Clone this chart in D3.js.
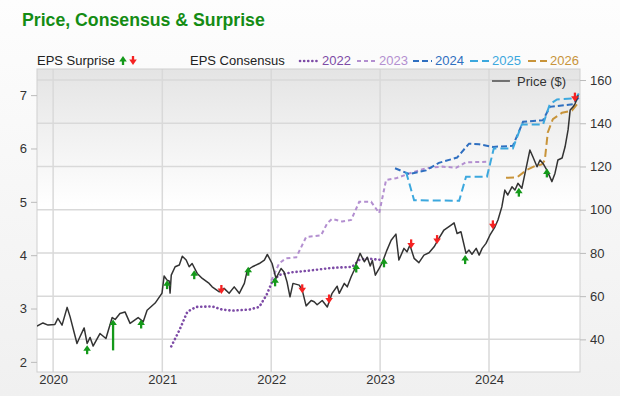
<!DOCTYPE html>
<html>
<head>
<meta charset="utf-8">
<script src="https://cdn.jsdelivr.net/npm/d3@7"></script>
<style>
  html, body { margin: 0; padding: 0; }
  body { width: 620px; height: 396px; overflow: hidden; font-family: "Liberation Sans", Arial, sans-serif; }
</style>
</head>
<body>
<div id="chart"></div>
<script>
// price ($), right axis
var priceSeries = [
  ["2019-11-08",46.1],["2019-11-28",47.6],["2019-12-15",46.6],["2020-01-07",46.9],["2020-01-17",49.7],
  ["2020-01-31",46.6],["2020-02-17",54.8],["2020-02-27",50.4],["2020-03-21",38.1],["2020-03-31",41.2],
  ["2020-04-14",45.3],["2020-04-24",38.1],["2020-05-04",40.9],["2020-05-14",36.9],["2020-06-06",42.7],
  ["2020-06-26",40.4],["2020-07-17",50.1],["2020-07-27",49.2],["2020-08-12",52],["2020-08-29",52.7],
  ["2020-09-15",47.4],["2020-10-12",50.1],["2020-10-29",48.1],["2020-11-11",53.5],["2020-12-08",56.8],
  ["2020-12-31",61.4],["2021-01-07",69.3],["2021-01-17",67.4],["2021-01-24",67],["2021-01-27",61.4],
  ["2021-01-31",69.7],["2021-02-13",73.6],["2021-02-27",74.4],["2021-03-09",78.5],["2021-03-22",76.7],
  ["2021-04-01",73.6],["2021-04-11",75.1],["2021-04-28",70.5],["2021-05-15",68.2],["2021-06-07",65.9],
  ["2021-06-17",64.3],["2021-07-11",62],["2021-07-27",63.6],["2021-08-13",61.3],["2021-08-30",64.3],
  ["2021-09-16",61.3],["2021-10-03",65.9],["2021-10-13",72],["2021-10-30",73.6],["2021-11-22",75.1],
  ["2021-12-09",76.7],["2021-12-19",79.3],["2022-01-04",75.1],["2022-01-17",68.2],["2022-02-03",72.8],
  ["2022-02-13",71.2],["2022-02-23",66.6],["2022-03-05",59.7],["2022-03-15",65.9],["2022-04-05",65.1],
  ["2022-04-15",62.8],["2022-04-28",55.5],["2022-05-15",58],["2022-05-25",57.4],["2022-06-04",56],
  ["2022-06-21",58],["2022-07-08",55],["2022-07-24",61.3],["2022-08-10",64.6],["2022-08-17",61.3],
  ["2022-09-03",65.9],["2022-09-13",64.3],["2022-09-26",69],["2022-10-06",72],["2022-10-13",75.1],
  ["2022-10-26",79.8],["2022-11-09",75.9],["2022-11-19",78],["2022-11-29",74],["2022-12-06",76.5],
  ["2022-12-16",69.7],["2022-12-29",72.8],["2023-01-07",75.1],["2023-01-24",81.3],["2023-02-07",85.9],
  ["2023-02-23",88.7],["2023-03-05",76.7],["2023-03-22",82.1],["2023-04-01",80.5],["2023-04-11",83.6],
  ["2023-04-25",77.5],["2023-05-11",75.5],["2023-05-28",79],["2023-06-14",80.1],["2023-07-01",82.8],
  ["2023-07-17",86.7],["2023-08-03",90.6],["2023-08-27",92.9],["2023-09-06",93.9],["2023-09-16",89],
  ["2023-09-29",89.8],["2023-10-16",79.8],["2023-10-26",81.3],["2023-11-05",79.4],["2023-11-19",82.1],
  ["2023-11-29",79],["2023-12-09",82.1],["2023-12-22",84.4],["2024-01-04",88.2],["2024-01-21",92.1],
  ["2024-01-31",95.2],["2024-02-13",101.3],["2024-02-23",109.1],["2024-03-04",106.8],["2024-03-18",110.6],
  ["2024-03-28",109.1],["2024-04-07",112.2],["2024-04-20",109.9],["2024-05-07",121],["2024-05-17",127.6],
  ["2024-05-27",124.5],["2024-06-10",119.9],["2024-06-20",123],["2024-06-30",121.4],["2024-07-13",118.3],
  ["2024-07-30",113],["2024-08-09",116.8],["2024-08-19",123],["2024-09-02",123.9],["2024-09-12",129.1],
  ["2024-09-22",136.9],["2024-09-29",146.1],["2024-10-09",147.6],["2024-10-16",149.2],["2024-10-26",153]
];

// EPS consensus by fiscal year, left axis
var eps2022 = [
  ["2021-01-31",2.29],["2021-02-27",2.59],["2021-03-26",2.94],["2021-04-25",3.03],["2021-06-17",3.04],
  ["2021-07-21",2.98],["2021-08-23",2.96],["2021-10-19",2.98],["2021-11-22",3.03],["2021-12-16",3.25],
  ["2022-01-04",3.5],["2022-01-28",3.63],["2022-03-12",3.68],["2022-05-08",3.71],["2022-07-21",3.76],
  ["2022-08-17",3.77],["2022-09-29",3.78],["2022-10-23",3.91],["2022-11-15",3.94],["2022-12-19",3.92],
  ["2023-01-07",3.91]
];
var eps2023 = [
  ["2022-01-01",3.52],["2022-01-28",3.85],["2022-02-20",3.94],["2022-03-26",3.96],["2022-04-28",4.34],
  ["2022-06-17",4.37],["2022-07-08",4.6],["2022-07-24",4.68],["2022-08-27",4.63],["2022-09-26",4.66],
  ["2022-10-23",5.0],["2022-12-02",5.0],["2022-12-29",4.79],["2023-01-21",5.41],["2023-02-23",5.44],
  ["2023-04-08",5.53],["2023-06-04",5.63],["2023-07-28",5.66],["2023-09-13",5.64],["2023-10-16",5.74],
  ["2023-12-25",5.75]
];
var eps2024 = [
  ["2023-02-20",5.63],["2023-04-08",5.52],["2023-06-04",5.59],["2023-07-17",5.73],["2023-09-16",5.83],
  ["2023-10-26",6.09],["2023-11-29",6.08],["2024-01-14",6.03],["2024-03-21",6.05],["2024-04-24",6.5],
  ["2024-06-30",6.53],["2024-07-23",6.78],["2024-10-08",6.83],["2024-10-28",6.96]
];
var eps2025 = [
  ["2023-03-29",5.56],["2023-04-25",5.03],["2023-09-23",5.02],["2023-10-16",5.47],["2023-12-25",5.47],
  ["2024-01-17",6.0],["2024-03-21",6.0],["2024-04-20",6.45],["2024-06-30",6.45],["2024-07-23",6.83],
  ["2024-08-16",6.92],["2024-10-18",6.94],["2024-10-28",7.03]
];
var eps2026 = [
  ["2024-02-27",5.45],["2024-04-04",5.46],["2024-05-07",5.6],["2024-06-03",5.67],["2024-06-26",5.7],
  ["2024-07-06",5.78],["2024-07-16",6.3],["2024-08-02",6.55],["2024-09-02",6.67],["2024-10-05",6.71],
  ["2024-10-25",6.85]
];

// EPS surprise arrows: date, price at arrow tip, direction (tail only for the long one)
var surprises = [
  ["2020-04-24",37.3,"up"],["2020-07-20",49.2,"up",34.9],["2020-10-22",49.2,"up"],["2021-01-17",67.4,"up"],
  ["2021-04-18",72,"up"],["2021-07-18",61,"down"],["2021-10-16",73.6,"up"],["2022-01-14",68.7,"up"],
  ["2022-04-15",61.3,"down"],["2022-07-14",56.6,"down"],["2022-10-13",75.1,"up"],["2023-01-14",77.5,"up"],
  ["2023-04-15",82.1,"down"],["2023-07-11",84.1,"down"],["2023-10-13",79,"up"],["2024-01-14",90.9,"down"],
  ["2024-04-10",110.2,"up"],["2024-07-13",119.1,"up"],["2024-10-15",150,"down"]
];

var consensusNames = ["2022","2023","2024","2025","2026"];
var consensusData = [eps2022, eps2023, eps2024, eps2025, eps2026];
var yearTicks = ["2020-01-01","2021-01-01","2022-01-01","2023-01-01","2024-01-01"];
var epsTicks = [2, 3, 4, 5, 6, 7];
var priceTicks = [40, 60, 80, 100, 120, 140, 160];

var colors = ["#7d4ba6", "#b38fd0", "#2f6fc0", "#3ca8de", "#c8943a"];
var dashes = ["0.1,4", "4,3", "6,3", "8,4", "8,4"];

var W = 620, H = 396;
var margin = {left: 37, right: 580, top: 69, bottom: 372};
var parse = d3.timeParse("%Y-%m-%d");

var svg = d3.select("#chart").append("svg")
    .attr("width", W).attr("height", H);

var defs = svg.append("defs");
var pg = defs.append("linearGradient").attr("id", "pagebg")
    .attr("x1", 0).attr("y1", 0).attr("x2", 0).attr("y2", 1);
pg.append("stop").attr("offset", "0%").attr("stop-color", "#fdfdfd");
pg.append("stop").attr("offset", "100%").attr("stop-color", "#f0f0f0");
var bg = defs.append("linearGradient").attr("id", "plotbg")
    .attr("x1", 0).attr("y1", 0).attr("x2", 0).attr("y2", 1);
bg.append("stop").attr("offset", "0%").attr("stop-color", "#e4e4e4");
bg.append("stop").attr("offset", "45%").attr("stop-color", "#ffffff");
bg.append("stop").attr("offset", "100%").attr("stop-color", "#ffffff");
defs.append("clipPath").attr("id", "clip").append("rect")
    .attr("x", margin.left).attr("y", margin.top)
    .attr("width", margin.right - margin.left).attr("height", margin.bottom - margin.top);

svg.append("rect").attr("width", W).attr("height", H).attr("fill", "url(#pagebg)");
svg.append("rect")
    .attr("x", margin.left).attr("y", margin.top)
    .attr("width", margin.right - margin.left).attr("height", margin.bottom - margin.top)
    .attr("fill", "url(#plotbg)");

var x = d3.scaleTime()
    .domain([parse("2019-11-08"), parse("2024-11-01")])
    .range([margin.left, margin.right]);
var yL = d3.scaleLinear().domain([1.81, 7.49]).range([margin.bottom, margin.top]);
var yR = d3.scaleLinear().domain([24.9, 165.1]).range([margin.bottom, margin.top]);

// grid
svg.append("g").selectAll("line").data(priceTicks).enter().append("line")
    .attr("x1", margin.left).attr("x2", margin.right)
    .attr("y1", function(d) { return yR(d); }).attr("y2", function(d) { return yR(d); })
    .attr("stroke", "#d9d9d9").attr("stroke-width", 1.5);
svg.append("g").selectAll("line").data(yearTicks).enter().append("line")
    .attr("x1", function(d) { return x(parse(d)); }).attr("x2", function(d) { return x(parse(d)); })
    .attr("y1", margin.top).attr("y2", margin.bottom)
    .attr("stroke", "#d9d9d9").attr("stroke-width", 1.5);
svg.append("rect")
    .attr("x", margin.left).attr("y", margin.top)
    .attr("width", margin.right - margin.left).attr("height", margin.bottom - margin.top)
    .attr("fill", "none").attr("stroke", "#cfcfcf");

// axes
var axL = svg.append("g").attr("transform", "translate(" + margin.left + ",0)")
    .call(d3.axisLeft(yL).tickValues(epsTicks).tickSize(6).tickPadding(4).tickFormat(d3.format("d")));
var axR = svg.append("g").attr("transform", "translate(" + margin.right + ",0)")
    .call(d3.axisRight(yR).tickValues(priceTicks).tickSize(6).tickPadding(4));
var axB = svg.append("g").attr("transform", "translate(0," + margin.bottom + ")")
    .call(d3.axisBottom(x).tickValues(yearTicks.map(parse)).tickSize(0).tickPadding(3).tickFormat(d3.timeFormat("%Y")));
[axL, axR, axB].forEach(function(a) {
  a.select(".domain").remove();
  a.selectAll("line").attr("stroke", "#bbbbbb");
  a.selectAll("text").attr("fill", "#333").style("font-size", "13px")
    .style("font-family", "'Liberation Sans', Arial, sans-serif");
});

var plot = svg.append("g").attr("clip-path", "url(#clip)");

// consensus lines
var epsLine = d3.line()
    .x(function(d) { return x(parse(d[0])); })
    .y(function(d) { return yL(d[1]); });
consensusData.forEach(function(s, i) {
  plot.append("path").datum(s)
      .attr("d", epsLine)
      .attr("fill", "none")
      .attr("stroke", colors[i])
      .attr("stroke-width", i == 0 ? 2.6 : 2)
      .attr("stroke-linecap", i == 0 ? "round" : "butt")
      .attr("stroke-dasharray", dashes[i]);
});

// price
var priceLine = d3.line()
    .x(function(d) { return x(parse(d[0])); })
    .y(function(d) { return yR(d[1]); });
plot.append("path").datum(priceSeries)
    .attr("d", priceLine)
    .attr("fill", "none")
    .attr("stroke", "#333")
    .attr("stroke-width", 1.5)
    .attr("stroke-linejoin", "round");

// surprise arrows
function arrow(g, cx, tip, tail, dir) {
  var c = dir == "up" ? "#14991a" : "#f52222";
  var s = dir == "up" ? 1 : -1;
  g.append("line")
      .attr("x1", cx).attr("x2", cx)
      .attr("y1", tip + s * 3).attr("y2", tail)
      .attr("stroke", c).attr("stroke-width", 2.3);
  g.append("path")
      .attr("d", "M" + (cx - 3.8) + "," + (tip + s * 5.5) + "L" + cx + "," + tip + "L" + (cx + 3.8) + "," + (tip + s * 5.5) + "Z")
      .attr("fill", c);
}
var arrows = plot.append("g");
surprises.forEach(function(d) {
  var cx = x(parse(d[0]));
  var tip = yR(d[1]);
  var tail = d[3] ? yR(d[3]) : tip + (d[2] == "up" ? 9 : -9);
  arrow(arrows, cx, tip, tail, d[2]);
});

// title
svg.append("text")
    .attr("x", 22).attr("y", 26)
    .attr("fill", "#148c14")
    .style("font-size", "17.7px").style("font-weight", "bold")
    .text("Price, Consensus & Surprise");

// legend row
var lg = svg.append("g").style("font-size", "13px");
lg.append("text").attr("x", 37).attr("y", 65).attr("fill", "#222").text("EPS Surprise");
arrow(lg, 123, 56, 65, "up");
arrow(lg, 133, 65, 56, "down");
lg.append("text").attr("x", 190).attr("y", 65).attr("fill", "#222").text("EPS Consensus");

var legX = [300, 357, 413, 470, 528];
consensusNames.forEach(function(n, i) {
  lg.append("line")
      .attr("x1", legX[i]).attr("x2", legX[i] + 19)
      .attr("y1", 61).attr("y2", 61)
      .attr("stroke", colors[i])
      .attr("stroke-width", i == 0 ? 2.6 : 2)
      .attr("stroke-linecap", i == 0 ? "round" : "butt")
      .attr("stroke-dasharray", dashes[i]);
  lg.append("text").attr("x", legX[i] + 22).attr("y", 65)
      .attr("fill", colors[i]).text(n);
});

// price legend inside plot
svg.append("line").attr("x1", 492).attr("x2", 510).attr("y1", 81).attr("y2", 81)
    .attr("stroke", "#555").attr("stroke-width", 1.6);
svg.append("text").attr("x", 517).attr("y", 86).attr("fill", "#333")
    .style("font-size", "13px").text("Price ($)");
</script>
</body>
</html>
